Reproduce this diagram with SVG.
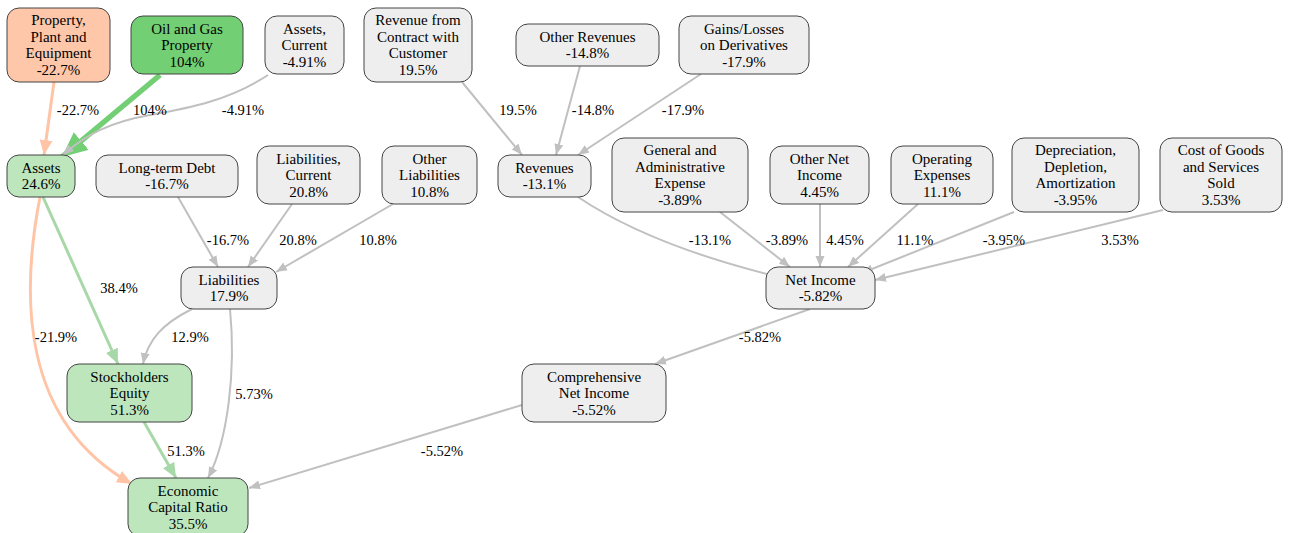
<svg xmlns="http://www.w3.org/2000/svg" width="1290" height="533" viewBox="0 0 1290 533" font-family="Liberation Serif, serif" font-size="15">
<style>
text{font-family:'Liberation Serif',serif;font-size:15px;fill:#000;text-anchor:middle}
#edge-labels text{font-size:14.5px}
.n rect{stroke:#444;stroke-width:1}
.g rect{fill:#eeeeee}
.lg rect{fill:#bde6bd}
.dg rect{fill:#73cf73}
.pe rect{fill:#ffc7aa}
.e{fill:none}
.eg{stroke:#c0c0c0;stroke-width:2}
.ep{stroke:#ffc4a6;stroke-width:3}
.el{stroke:#a8d8a8;stroke-width:3}
.ed{stroke:#73cf73;stroke-width:5.5}
</style>
<defs>
<marker id="mg" markerWidth="12" markerHeight="10" refX="11" refY="5" orient="auto" markerUnits="userSpaceOnUse"><path d="M0,0.5 L11,5 L0,9.5 z" fill="#c0c0c0"/></marker>
<marker id="mp" markerWidth="16" markerHeight="14" refX="15" refY="7" orient="auto" markerUnits="userSpaceOnUse"><path d="M0,0.5 L15,7 L0,13.5 z" fill="#ffc4a6"/></marker>
<marker id="ml" markerWidth="16" markerHeight="14" refX="15" refY="7" orient="auto" markerUnits="userSpaceOnUse"><path d="M0,0.5 L15,7 L0,13.5 z" fill="#a8d8a8"/></marker>
<marker id="md" markerWidth="26" markerHeight="24" refX="25" refY="12" orient="auto" markerUnits="userSpaceOnUse"><path d="M0,0.5 L25,12 L0,23.5 z" fill="#73cf73"/></marker>
</defs>

<g id="edges">
<path class="e ep" d="M54,82 L44,155" marker-end="url(#mp)"/>
<path class="e ed" d="M160,75 L62,157" marker-end="url(#md)"/>
<path class="e eg" d="M268,75 C230,100 190,108 150,115 C110,122 85,135 63,155" marker-end="url(#mg)"/>
<path class="e eg" d="M462,82 L522,155" marker-end="url(#mg)"/>
<path class="e eg" d="M580,66 L556,155" marker-end="url(#mg)"/>
<path class="e eg" d="M701,74 L578,155" marker-end="url(#mg)"/>
<path class="e eg" d="M578,197 C630,232 700,258 783,278" marker-end="url(#mg)"/>
<path class="e eg" d="M720,212 L790,267" marker-end="url(#mg)"/>
<path class="e eg" d="M820,204 L820,267" marker-end="url(#mg)"/>
<path class="e eg" d="M918,204 L848,267" marker-end="url(#mg)"/>
<path class="e eg" d="M1014,212 L862,273" marker-end="url(#mg)"/>
<path class="e eg" d="M1163,210 L875,280" marker-end="url(#mg)"/>
<path class="e eg" d="M178,197 L218,267" marker-end="url(#mg)"/>
<path class="e eg" d="M292,204 L248,267" marker-end="url(#mg)"/>
<path class="e eg" d="M393,204 L276,272" marker-end="url(#mg)"/>
<path class="e el" d="M43,197 L118,364" marker-end="url(#ml)"/>
<path class="e ep" d="M40,197 C22,290 18,420 132,484" marker-end="url(#mp)"/>
<path class="e eg" d="M192,309 C162,324 148,340 143,364" marker-end="url(#mg)"/>
<path class="e eg" d="M230,309 C236,370 228,440 208,478" marker-end="url(#mg)"/>
<path class="e el" d="M144,422 L176,478" marker-end="url(#ml)"/>
<path class="e eg" d="M810,309 L655,364" marker-end="url(#mg)"/>
<path class="e eg" d="M522,405 L249,488" marker-end="url(#mg)"/>
</g>

<g id="edge-labels">
<text x="78" y="115">-22.7%</text>
<text x="150" y="115">104%</text>
<text x="243" y="115">-4.91%</text>
<text x="518" y="115">19.5%</text>
<text x="593" y="115">-14.8%</text>
<text x="683" y="115">-17.9%</text>
<text x="228" y="245">-16.7%</text>
<text x="298" y="245">20.8%</text>
<text x="378" y="245">10.8%</text>
<text x="710" y="245">-13.1%</text>
<text x="787" y="245">-3.89%</text>
<text x="845" y="245">4.45%</text>
<text x="915" y="245">11.1%</text>
<text x="1004" y="245">-3.95%</text>
<text x="1120" y="245">3.53%</text>
<text x="119" y="293">38.4%</text>
<text x="56" y="342">-21.9%</text>
<text x="190" y="342">12.9%</text>
<text x="254" y="399">5.73%</text>
<text x="760" y="342">-5.82%</text>
<text x="186" y="456">51.3%</text>
<text x="442" y="456">-5.52%</text>
</g>

<g id="ppe" class="n pe"><rect x="7" y="8" width="103" height="74" rx="12"/><text x="58.5" y="25.3">Property,</text><text x="58.5" y="41.8">Plant and</text><text x="58.5" y="58.3">Equipment</text><text x="58.5" y="74.8">-22.7%</text></g>
<g id="oil" class="n dg"><rect x="131" y="16" width="112" height="58" rx="12"/><text x="187" y="33.5">Oil and Gas</text><text x="187" y="50">Property</text><text x="187" y="66.5">104%</text></g>
<g id="assets-current" class="n g"><rect x="265" y="16" width="79" height="58" rx="12"/><text x="304.5" y="33.5">Assets,</text><text x="304.5" y="50">Current</text><text x="304.5" y="66.5">-4.91%</text></g>
<g id="rev-contract" class="n g"><rect x="364" y="8" width="108" height="74" rx="12"/><text x="418" y="25.3">Revenue from</text><text x="418" y="41.8">Contract with</text><text x="418" y="58.3">Customer</text><text x="418" y="74.8">19.5%</text></g>
<g id="other-rev" class="n g"><rect x="516" y="24" width="143" height="42" rx="12"/><text x="587.5" y="41.8">Other Revenues</text><text x="587.5" y="58.3">-14.8%</text></g>
<g id="gains" class="n g"><rect x="679" y="16" width="130" height="58" rx="12"/><text x="744" y="33.5">Gains/Losses</text><text x="744" y="50">on Derivatives</text><text x="744" y="66.5">-17.9%</text></g>
<g id="assets" class="n lg"><rect x="7" y="155" width="68" height="42" rx="12"/><text x="41" y="172.8">Assets</text><text x="41" y="189.3">24.6%</text></g>
<g id="ltd" class="n g"><rect x="96" y="155" width="142" height="42" rx="12"/><text x="167" y="172.8">Long-term Debt</text><text x="167" y="189.3">-16.7%</text></g>
<g id="liab-current" class="n g"><rect x="257" y="146" width="103" height="58" rx="12"/><text x="308.5" y="163.5">Liabilities,</text><text x="308.5" y="180">Current</text><text x="308.5" y="196.5">20.8%</text></g>
<g id="other-liab" class="n g"><rect x="382" y="146" width="95" height="58" rx="12"/><text x="429.5" y="163.5">Other</text><text x="429.5" y="180">Liabilities</text><text x="429.5" y="196.5">10.8%</text></g>
<g id="revenues" class="n g"><rect x="498" y="155" width="93" height="42" rx="12"/><text x="544.5" y="172.8">Revenues</text><text x="544.5" y="189.3">-13.1%</text></g>
<g id="gna" class="n g"><rect x="612" y="138" width="136" height="74" rx="12"/><text x="680" y="155.3">General and</text><text x="680" y="171.8">Administrative</text><text x="680" y="188.3">Expense</text><text x="680" y="204.8">-3.89%</text></g>
<g id="other-ni" class="n g"><rect x="770" y="146" width="99" height="58" rx="12"/><text x="819.5" y="163.5">Other Net</text><text x="819.5" y="180">Income</text><text x="819.5" y="196.5">4.45%</text></g>
<g id="opex" class="n g"><rect x="891" y="146" width="102" height="58" rx="12"/><text x="942" y="163.5">Operating</text><text x="942" y="180">Expenses</text><text x="942" y="196.5">11.1%</text></g>
<g id="dda" class="n g"><rect x="1012" y="138" width="127" height="74" rx="12"/><text x="1075.5" y="155.3">Depreciation,</text><text x="1075.5" y="171.8">Depletion,</text><text x="1075.5" y="188.3">Amortization</text><text x="1075.5" y="204.8">-3.95%</text></g>
<g id="cogs" class="n g"><rect x="1160" y="138" width="122" height="74" rx="12"/><text x="1221" y="155.3">Cost of Goods</text><text x="1221" y="171.8">and Services</text><text x="1221" y="188.3">Sold</text><text x="1221" y="204.8">3.53%</text></g>
<g id="liabilities" class="n g"><rect x="181" y="267" width="96" height="42" rx="12"/><text x="229" y="284.8">Liabilities</text><text x="229" y="301.3">17.9%</text></g>
<g id="net-income" class="n g"><rect x="766" y="267" width="109" height="42" rx="12"/><text x="820.5" y="284.8">Net Income</text><text x="820.5" y="301.3">-5.82%</text></g>
<g id="equity" class="n lg"><rect x="67" y="364" width="125" height="58" rx="12"/><text x="129.5" y="381.5">Stockholders</text><text x="129.5" y="398">Equity</text><text x="129.5" y="414.5">51.3%</text></g>
<g id="comp-ni" class="n g"><rect x="522" y="364" width="144" height="58" rx="12"/><text x="594" y="381.5">Comprehensive</text><text x="594" y="398">Net Income</text><text x="594" y="414.5">-5.52%</text></g>
<g id="ecr" class="n lg"><rect x="128" y="478" width="120" height="58" rx="12"/><text x="188" y="495.5">Economic</text><text x="188" y="512">Capital Ratio</text><text x="188" y="528.5">35.5%</text></g>
</svg>
